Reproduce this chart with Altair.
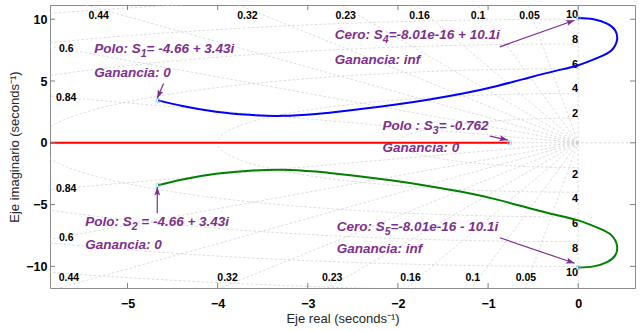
import math
import altair as alt
import pandas as pd

# ---------------- data ----------------
blue_x = [-4.66, -4.39, -4.02, -3.65, -3.28, -2.91, -2.76, -2.39, -2.02, -1.65, -1.28,
          -0.91, -0.54, -0.24, 0.0, 0.24, 0.37, 0.43, 0.41, 0.32, 0.17, 0.0]
blue_y = [3.43, 2.97, 2.51, 2.26, 2.18, 2.33, 2.44, 2.75, 3.10, 3.51, 3.99,
          4.58, 5.29, 5.84, 6.28, 6.95, 7.49, 8.30, 9.11, 9.65, 10.0, 10.1]
green_x = [-4.66, -4.39, -4.02, -3.65, -3.28, -2.91, -2.76, -2.39, -2.02, -1.65, -1.28,
           -0.91, -0.54, -0.24, 0.0, 0.24, 0.37, 0.43, 0.41, 0.32, 0.17, 0.0]
green_y = [-3.43, -2.97, -2.51, -2.26, -2.18, -2.33, -2.44, -2.75, -3.10, -3.51, -3.99,
           -4.58, -5.29, -5.84, -6.28, -6.95, -7.49, -8.30, -9.11, -9.65, -10.0, -10.1]
red_x = [-0.762, -6.5]
red_y = [0.0, 0.0]

pz_x = [-4.66, -4.66, -0.762, 0.0, 0.0]
pz_y = [3.43, -3.43, 0.0, 10.1, -10.1]

zetas = [0.05, 0.1, 0.16, 0.23, 0.32, 0.44, 0.6, 0.84]
wns = [2, 4, 6, 8, 10, 12]
wn_labels = [2, 4, 6, 8, 10]

zeta_lbl = ["0.44", "0.32", "0.23", "0.16", "0.1", "0.05", "0.6", "0.84",
            "0.44", "0.32", "0.23", "0.16", "0.1", "0.05", "0.6", "0.84"]
zeta_lbl_x = [-5.32, -3.67, -2.58, -1.76, -1.11, -0.54, -5.68, -5.68,
              -5.65, -3.89, -2.73, -1.86, -1.17, -0.58, -5.68, -5.68]
zeta_lbl_y = [10.27, 10.27, 10.27, 10.27, 10.27, 10.27, 7.57, 3.59,
              -10.96, -10.96, -10.96, -10.96, -10.96, -10.96, -7.68, -3.74]

x_ticks = [-5, -4, -3, -2, -1, 0]
y_ticks = [-10, -5, 0, 5, 10]

# annotations with subscript: prefix, subscript, suffix
lbl_prefix = ["Polo: S", "Cero: S", "Polo : S", "Polo: S", "Cero: S"]
lbl_sub = ["1", "4", "3", "2", "5"]
lbl_suffix = ["= -4.66 + 3.43i", "=-8.01e-16 + 10.1i", "= -0.762", " = -4.66 + 3.43i", "=-8.01e-16 - 10.1i"]
lbl_x = [-5.37, -2.70, -2.17, -5.47, -2.68]
lbl_y = [7.57, 8.71, 1.35, -6.44, -6.79]

gain_text = ["Ganancia: 0", "Ganancia: inf", "Ganancia: 0", "Ganancia: 0", "Ganancia: inf"]
gain_x = [-5.37, -2.70, -2.17, -5.47, -2.68]
gain_y = [5.66, 6.69, -0.40, -8.27, -8.62]

arrow_x0 = [-4.60, -0.87, -0.98, -4.67, -0.87]
arrow_y0 = [4.80, 7.76, 0.54, -5.71, -7.68]
arrow_x1 = [-4.67, -0.04, -0.78, -4.67, -0.04]
arrow_y1 = [3.60, 9.92, 0.22, -3.58, -9.75]

# ---------------- layout ----------------
XMIN, XMAX = -5.86, 0.63
YMIN, YMAX = -11.75, 11.15
W, H = 585, 283
sx = W / (XMAX - XMIN)
sy = H / (YMAX - YMIN)

xs = alt.Scale(domain=[XMIN, XMAX], nice=False, zero=False)
ys = alt.Scale(domain=[YMIN, YMAX], nice=False, zero=False)

PURPLE = "#7E2F8E"
GRID = "#cdcdcd"
FONT = "Liberation Sans"
FS = 13.5
FS_SUB = 10.5

# Arial/Liberation Sans Bold advance widths (1/1000 em)
ADV = {" ": 278, ":": 333, "=": 584, "-": 333, "+": 584, ".": 278, "P": 667, "o": 611,
       "l": 278, "S": 667, "C": 722, "e": 556, "r": 389, "i": 278}
def text_w(s, fs):
    return sum(ADV.get(ch, 556) for ch in s) * fs / 1000.0

# grid: damping-ratio rays and natural-frequency circles
grid_rows = []
gid = 0
L = 40.0
for z in zetas:
    for s in (1, -1):
        grid_rows.append({"g": gid, "o": 0, "x": 0.0, "y": 0.0})
        grid_rows.append({"g": gid, "o": 1, "x": -L * z, "y": s * L * math.sqrt(1 - z * z)})
        gid += 1
for w in wns:
    for k in range(0, 181):
        th = math.radians(90 + k)
        grid_rows.append({"g": gid, "o": k, "x": w * math.cos(th), "y": w * math.sin(th)})
    gid += 1
grid_df = pd.DataFrame(grid_rows)

x_enc = alt.X("x:Q", scale=xs, axis=alt.Axis(
    values=x_ticks, format="d", title="Eje real (seconds\u207b\u00b9)", grid=False, ticks=False, domain=False,
    labelFont=FONT, labelFontWeight="bold", labelFontSize=12.5, labelColor="#000000", labelPadding=9,
    titleFont=FONT, titleFontWeight="normal", titleFontSize=13, titleColor="#262626", titlePadding=3))
y_enc = alt.Y("y:Q", scale=ys, axis=alt.Axis(
    values=y_ticks, format="d", title="Eje imaginario (seconds\u207b\u00b9)", grid=False, ticks=False, domain=False,
    labelFont=FONT, labelFontWeight="bold", labelFontSize=12.5, labelColor="#000000", labelPadding=3,
    titleFont=FONT, titleFontWeight="normal", titleFontSize=13, titleColor="#262626", titlePadding=4))

grid = alt.Chart(grid_df).mark_line(color=GRID, strokeWidth=0.7, strokeDash=[2.5, 2], clip=True).encode(
    x=x_enc, y=y_enc, detail="g:N", order="o:Q")

axes_df = pd.DataFrame({"v": [0.0]})
vline = alt.Chart(axes_df).mark_rule(color=GRID, strokeWidth=0.7, strokeDash=[2.5, 2]).encode(
    x=alt.X("v:Q", scale=xs), y=alt.value(0), y2=alt.value(H))
hline = alt.Chart(axes_df).mark_rule(color=GRID, strokeWidth=0.7, strokeDash=[2.5, 2]).encode(
    y=alt.Y("v:Q", scale=ys), x=alt.value(0), x2=alt.value(W))

zl_df = pd.DataFrame({"t": zeta_lbl, "x": zeta_lbl_x, "y": zeta_lbl_y})
zl = alt.Chart(zl_df).mark_text(font=FONT, fontWeight="bold", fontSize=10.5, color="#000000",
                                align="center", baseline="middle").encode(
    x=alt.X("x:Q", scale=xs), y=alt.Y("y:Q", scale=ys), text="t:N")

wn_up = pd.DataFrame({"t": [str(v) for v in wn_labels], "x": [0.0] * len(wn_labels),
                      "y": [float(v) for v in wn_labels]})
wn_dn = pd.DataFrame({"t": [str(v) for v in wn_labels], "x": [0.0] * len(wn_labels),
                      "y": [-float(v) for v in wn_labels]})
wl1 = alt.Chart(wn_up).mark_text(font=FONT, fontWeight="bold", fontSize=11, color="#000000",
                                 align="right", baseline="alphabetic", dy=-1).encode(
    x=alt.X("x:Q", scale=xs), y=alt.Y("y:Q", scale=ys), text="t:N")
wl2 = alt.Chart(wn_dn).mark_text(font=FONT, fontWeight="bold", fontSize=11, color="#000000",
                                 align="right", baseline="top", dy=1).encode(
    x=alt.X("x:Q", scale=xs), y=alt.Y("y:Q", scale=ys), text="t:N")

def curve(xv, yv, color):
    df = pd.DataFrame({"x": xv, "y": yv, "o": list(range(len(xv)))})
    return alt.Chart(df).mark_line(color=color, strokeWidth=2, interpolate="natural", clip=True).encode(
        x=alt.X("x:Q", scale=xs), y=alt.Y("y:Q", scale=ys), order="o:Q")

blue = curve(blue_x, blue_y, "#0000ff")
green = curve(green_x, green_y, "#008000")
red = curve(red_x, red_y, "#ff0000")

pz = alt.Chart(pd.DataFrame({"x": pz_x, "y": pz_y})).mark_point(
    shape="square", size=14, filled=False, color="#7fc4ff", strokeWidth=1).encode(
    x=alt.X("x:Q", scale=xs), y=alt.Y("y:Q", scale=ys))

# annotation pieces (prefix, lowered subscript, suffix); leading blanks become an x offset
pre_df = pd.DataFrame({"t": lbl_prefix, "x": lbl_x, "y": lbl_y})
sub_df = pd.DataFrame({"t": lbl_sub,
                       "x": [x + text_w(p, FS) / sx for x, p in zip(lbl_x, lbl_prefix)],
                       "y": lbl_y})
suf_x = []
suf_t = []
for x, p, s, f in zip(lbl_x, lbl_prefix, lbl_sub, lbl_suffix):
    lead = len(f) - len(f.lstrip(" "))
    suf_x.append(x + (text_w(p, FS) + text_w(s, FS_SUB) + text_w(" " * lead, FS)) / sx)
    suf_t.append(f.lstrip(" "))
suf_df = pd.DataFrame({"t": suf_t, "x": suf_x, "y": lbl_y})
gain_df = pd.DataFrame({"t": gain_text, "x": gain_x, "y": gain_y})

def ann(df, fs, dy=0):
    return alt.Chart(df).mark_text(font=FONT, fontWeight="bold", fontStyle="italic", fontSize=fs,
                                   color=PURPLE, align="left", baseline="middle", dy=dy).encode(
        x=alt.X("x:Q", scale=xs), y=alt.Y("y:Q", scale=ys), text="t:N")

a_pre = ann(pre_df, FS)
a_sub = ann(sub_df, FS_SUB, dy=5)
a_suf = ann(suf_df, FS)
a_gain = ann(gain_df, FS)

ang = []
for a, b, c, d in zip(arrow_x0, arrow_y0, arrow_x1, arrow_y1):
    ang.append(math.degrees(math.atan2((c - a) * sx, (d - b) * sy)) % 360)
arr_df = pd.DataFrame({"x": arrow_x0, "y": arrow_y0, "x2": arrow_x1, "y2": arrow_y1, "a": ang})
arr_line = alt.Chart(arr_df).mark_rule(color=PURPLE, strokeWidth=1.2).encode(
    x=alt.X("x:Q", scale=xs), y=alt.Y("y:Q", scale=ys), x2="x2:Q", y2="y2:Q")
arr_head = alt.Chart(arr_df).mark_point(
    shape="M0,0L-0.75,2.1L0,1.7L0.75,2.1Z", size=64, filled=True, color=PURPLE, opacity=1).encode(
    x=alt.X("x2:Q", scale=xs), y=alt.Y("y2:Q", scale=ys), angle=alt.Angle("a:Q", scale=None))

# inside tick marks on all four sides
TK = "#808080"
xt = pd.DataFrame({"v": [float(v) for v in x_ticks]})
yt = pd.DataFrame({"v": [float(v) for v in y_ticks]})
t_top = alt.Chart(xt).mark_rule(color=TK).encode(x=alt.X("v:Q", scale=xs), y=alt.value(0), y2=alt.value(5))
t_bot = alt.Chart(xt).mark_rule(color=TK).encode(x=alt.X("v:Q", scale=xs), y=alt.value(H - 5), y2=alt.value(H))
t_lft = alt.Chart(yt).mark_rule(color=TK).encode(y=alt.Y("v:Q", scale=ys), x=alt.value(0), x2=alt.value(5))
t_rgt = alt.Chart(yt).mark_rule(color=TK).encode(y=alt.Y("v:Q", scale=ys), x=alt.value(W - 5), x2=alt.value(W))

chart = alt.layer(grid, vline, hline, zl, wl1, wl2, red, blue, green, pz,
                  arr_line, arr_head, a_pre, a_sub, a_suf, a_gain,
                  t_top, t_bot, t_lft, t_rgt).properties(
    width=W, height=H,
    autosize=alt.AutoSizeParams(type="none"),
    padding={"left": 50, "top": 5, "right": 5, "bottom": 43},
    background="white",
).configure_view(stroke="#8c8c8c", strokeWidth=1)

chart.save("out.html", embed_options={"renderer": "svg", "actions": False})
